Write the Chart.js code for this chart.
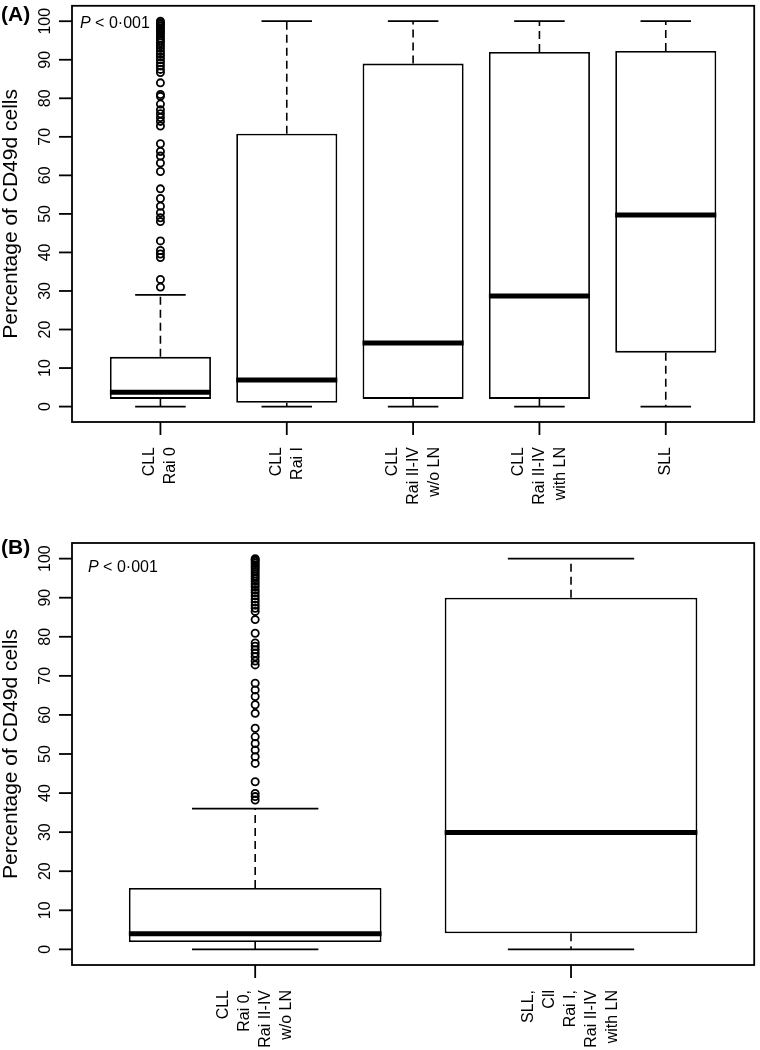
<!DOCTYPE html>
<html>
<head>
<meta charset="utf-8">
<script src="https://cdn.jsdelivr.net/npm/chart.js@4.4.1/dist/chart.umd.min.js"></script>
<style>
  body { margin: 0; background: #fff; }
  #wrap { position: relative; width: 760px; height: 1050px; }
  canvas { position: absolute; left: 0; }
</style>
</head>
<body>
<div id="wrap">
  <canvas id="chartA" width="760" height="520" style="top:0px"></canvas>
  <canvas id="chartB" width="760" height="530" style="top:520px"></canvas>
</div>
<script>
// ---- panel A data ----
const catsA = [['CLL', 'Rai 0'], ['CLL', 'Rai I'], ['CLL', 'Rai II-IV', 'w/o LN'], ['CLL', 'Rai II-IV', 'with LN'], ['SLL']];
const lowA  = [0, 0, 0, 0, 0];
const q1A   = [2, 1, 2, 2, 14];
const medA  = [3.7, 6.9, 16.5, 28.7, 49.7];
const q3A   = [12.9, 70.8, 89, 92, 92.3];
const highA = [29, 100, 100, 100, 100];
const outA  = [31, 33, 38.7, 39.6, 40.5, 43, 48, 49, 50.3, 52, 54, 56.5, 61, 63.2, 65, 66.2, 68.2,
               72.8, 74, 75, 76, 77, 78.5, 80.5, 81, 84, 86.7, 87.5, 88.4, 89.2, 90, 90.8, 91.5,
               92.2, 93, 93.7, 94.4, 95, 95.6, 96.2, 96.8, 97.3, 97.8, 98.3, 98.8, 99.2, 99.6, 100];

// ---- panel B data ----
const catsB = [['CLL', 'Rai 0,', 'Rai II-IV', 'w/o LN'], ['SLL,', 'Cll', 'Rai I,', 'Rai II-IV', 'with LN']];
const lowB  = [0, 0];
const q1B   = [1.9, 4.1];
const medB  = [4, 29.9];
const q3B   = [15.7, 90];
const highB = [36, 100];
const outB  = [38.2, 39.1, 39.9, 42.9, 47.6, 49.3, 51, 52.7, 54.4, 56.6, 60.4, 62.6, 64.7, 66.4, 68.1,
               72.8, 73.8, 74.9, 75.8, 76.7, 77.6, 78.4, 80.9, 84.4, 86.5, 87.3, 88.1, 88.9, 89.7, 90.5,
               91.3, 92, 92.8, 93.5, 94.2, 94.9, 95.5, 96.1, 96.7, 97.3, 97.8, 98.3, 98.8, 99.3, 99.7, 100];

const yTicks = [0, 10, 20, 30, 40, 50, 60, 70, 80, 90, 100];
const yTitle = 'Percentage of CD49d cells';
const FONT = '"Liberation Sans", Arial, Helvetica, sans-serif';

// whiskers, medians, frame, axes and texts drawn on top of the library's scales
const boxExtras = {
  id: 'boxExtras',
  afterDatasetsDraw(chart, args, o) {
    const { ctx, chartArea: a, scales: { x, y } } = chart;
    ctx.save();
    ctx.strokeStyle = '#000';
    ctx.fillStyle = '#000';

    o.med.forEach((m, i) => {
      const cx = x.getPixelForValue(i + 1);
      const hw = x.getPixelForValue(i + 1.4) - cx;
      const cw = x.getPixelForValue(i + 1.2) - cx;
      const pLow = y.getPixelForValue(o.low[i]);
      const pQ1 = y.getPixelForValue(o.q1[i]);
      const pQ3 = y.getPixelForValue(o.q3[i]);
      const pHigh = y.getPixelForValue(o.high[i]);
      // dashed whiskers
      ctx.lineWidth = 1.6;
      ctx.setLineDash([8, 5]);
      ctx.beginPath();
      ctx.moveTo(cx, pQ3); ctx.lineTo(cx, pHigh);
      ctx.moveTo(cx, pQ1); ctx.lineTo(cx, pLow);
      ctx.stroke();
      ctx.setLineDash([]);
      // caps
      ctx.lineWidth = 1.8;
      ctx.beginPath();
      ctx.moveTo(cx - cw, pHigh); ctx.lineTo(cx + cw, pHigh);
      ctx.moveTo(cx - cw, pLow); ctx.lineTo(cx + cw, pLow);
      ctx.stroke();
      // median
      const pMed = y.getPixelForValue(m);
      ctx.lineWidth = 5;
      ctx.beginPath();
      ctx.moveTo(cx - hw, pMed); ctx.lineTo(cx + hw, pMed);
      ctx.stroke();
    });

    // frame
    ctx.lineWidth = 1.8;
    ctx.strokeRect(a.left, a.top, a.right - a.left, a.bottom - a.top);

    // y axis ticks + labels
    ctx.font = '16px ' + FONT;
    yTicks.forEach(v => {
      const py = y.getPixelForValue(v);
      ctx.beginPath();
      ctx.moveTo(a.left - 13, py); ctx.lineTo(a.left, py);
      ctx.stroke();
      ctx.save();
      ctx.translate(50, py);
      ctx.rotate(-Math.PI / 2);
      ctx.textAlign = 'center';
      ctx.textBaseline = 'alphabetic';
      ctx.fillText(String(v), 0, 0);
      ctx.restore();
    });

    // x axis ticks + labels
    ctx.font = '16px ' + FONT;
    o.cats.forEach((lines, i) => {
      const cx = x.getPixelForValue(i + 1);
      ctx.beginPath();
      ctx.moveTo(cx, a.bottom); ctx.lineTo(cx, a.bottom + 13);
      ctx.stroke();
      lines.forEach((t, j) => {
        const lx = cx + (j - (lines.length - 1) / 2) * 21;
        ctx.save();
        ctx.translate(lx, a.bottom + 25);
        ctx.rotate(-Math.PI / 2);
        ctx.textAlign = 'right';
        ctx.textBaseline = 'middle';
        ctx.fillText(t, 0, 0);
        ctx.restore();
      });
    });

    // y title
    const midY = (y.getPixelForValue(0) + y.getPixelForValue(100)) / 2;
    ctx.save();
    ctx.font = '21px ' + FONT;
    ctx.translate(17, midY);
    ctx.rotate(-Math.PI / 2);
    ctx.textAlign = 'center';
    ctx.textBaseline = 'alphabetic';
    ctx.fillText(yTitle, 0, 0);
    ctx.restore();

    // panel letter
    ctx.font = 'bold 21px ' + FONT;
    ctx.textAlign = 'left';
    ctx.textBaseline = 'alphabetic';
    ctx.fillText(o.panel, 1, o.panelY);

    // P value
    ctx.font = 'italic 16px ' + FONT;
    ctx.fillText('P', o.pX, o.pY);
    const w = ctx.measureText('P').width;
    ctx.font = '16px ' + FONT;
    ctx.fillText(' < 0\u00b7001', o.pX + w, o.pY);

    ctx.restore();
  }
};

function makeChart(id, cats, low, q1, med, q3, high, outliers, pad, extra) {
  const n = cats.length;
  const ext = n * 0.04;
  return new Chart(document.getElementById(id), {
    type: 'bar',
    data: {
      datasets: [{
        data: cats.map((c, i) => ({ x: i + 1, y: [q1[i], q3[i]] })),
        backgroundColor: '#fff',
        borderColor: '#000',
        borderWidth: 1.8,
        borderSkipped: false,
        barPercentage: 0.8,
        categoryPercentage: 1.0,
        order: 2
      }, {
        type: 'scatter',
        data: outliers.map(v => ({ x: 1, y: v })),
        pointRadius: 3.6,
        pointBorderWidth: 1.8,
        borderColor: '#000',
        backgroundColor: 'rgba(0,0,0,0)',
        order: 1
      }]
    },
    options: {
      responsive: false,
      animation: false,
      events: [],
      layout: { padding: pad },
      scales: {
        x: {
          type: 'linear', display: false, offset: false,
          min: 0.5 - ext, max: n + 0.5 + ext,
          afterBuildTicks: s => { s.ticks = cats.map((c, i) => ({ value: i + 1 })); }
        },
        y: { type: 'linear', display: false, min: -4, max: 104 }
      },
      plugins: {
        legend: { display: false },
        tooltip: { enabled: false },
        boxExtras: Object.assign({ cats, low, q1, med, q3, high }, extra)
      }
    },
    plugins: [boxExtras]
  });
}

makeChart('chartA', catsA, lowA, q1A, medA, q3A, highA, outA,
  { left: 72, top: 1, right: 2, bottom: 98 },
  { panel: '(A)', panelY: 21, pX: 80, pY: 28 });

makeChart('chartB', catsB, lowB, q1B, medB, q3B, highB, outB,
  { left: 72, top: 23, right: 2, bottom: 85 },
  { panel: '(B)', panelY: 34, pX: 88, pY: 52 });
</script>
</body>
</html>
